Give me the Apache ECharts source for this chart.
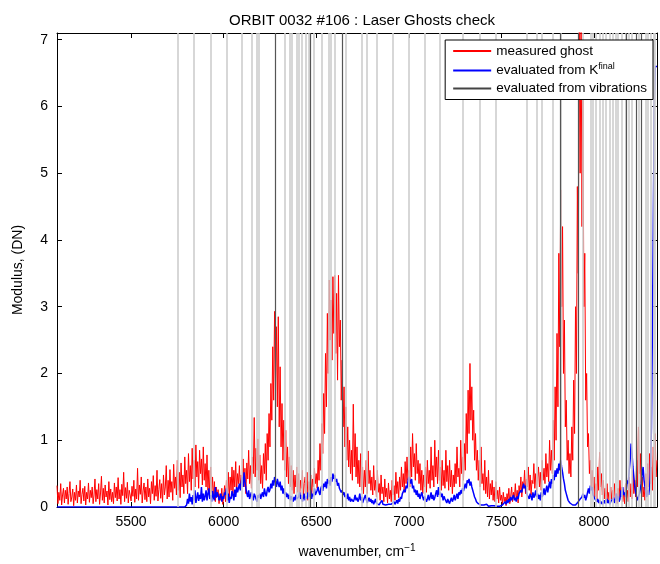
<!DOCTYPE html>
<html>
<head>
<meta charset="utf-8">
<script src="https://cdn.jsdelivr.net/npm/echarts@6/dist/echarts.min.js"></script>
<style>
html,body{margin:0;padding:0;background:#fff;}
#chart{width:660px;height:564px;}
</style>
</head>
<body>
<div id="chart"></div>
<script>
// wavenumber grid: start and step (cm-1)
const xStart = 5100;
const xStep = 5;

// measured ghost (red), one value every 5 cm-1 from 5100 (20 values per 100 cm-1)
const measuredGhost = [
  .32,.05,.22,.10,.35,.03,.18,.28,.06,.25,.12,.30,.04,.20,.38,.08,.15,.27,.02,.22, // 5100
  .10,.33,.06,.24,.15,.40,.05,.19,.28,.09,.31,.03,.22,.12,.36,.07,.25,.14,.30,.05, // 5200
  .18,.42,.08,.26,.12,.35,.04,.21,.46,.10,.28,.06,.33,.15,.24,.03,.38,.11,.27,.08, // 5300
  .22,.05,.36,.14,.30,.09,.44,.12,.26,.04,.34,.17,.52,.08,.29,.13,.37,.06,.25,.18, // 5400
  .09,.31,.16,.40,.07,.27,.12,.58,.10,.33,.19,.45,.06,.24,.36,.11,.30,.08,.42,.15, // 5500
  .28,.05,.38,.20,.47,.10,.32,.16,.55,.09,.26,.41,.13,.35,.07,.48,.18,.30,.62,.12, // 5600
  .40,.15,.56,.22,.38,.10,.64,.28,.45,.18,.70,.25,.52,.14,.66,.30,.48,.20,.75,.35, // 5700
  .55,.20,.80,.38,.62,.25,.88,.42,.70,.30,.93,.45,.68,.28,.85,.50,.72,.33,.90,.40, // 5800
  .65,.30,.78,.25,.55,.18,.60,.22,.45,.12,.38,.08,.30,.15,.26,.05,.20,.10,.28,.04, // 5900
  .15,.32,.08,.40,.18,.52,.12,.45,.25,.60,.20,.55,.30,.68,.22,.50,.35,.62,.28,.48, // 6000
  .38,.72,.30,.58,.20,.66,.42,.85,.35,.62,.28,.75,.50,1.34,.45,.88,.55,1.02,.40,.78, // 6100
  .35,.62,.28,.80,.50,.95,.40,1.10,.70,1.40,.90,1.85,1.30,2.40,1.60,2.93,1.90,2.70,1.50,2.85, // 6200
  1.20,2.10,.90,1.55,.70,1.30,.55,1.15,.45,.90,.35,.75,.30,.62,.25,.55,.20,.48,.30,.60, // 6300
  .22,.50,.15,.40,.28,.55,.12,.35,.45,.20,.52,.10,.38,.25,.48,.15,.42,.30,.58,.35, // 6400
  .50,.28,.70,.40,.95,.55,1.25,.80,1.70,1.10,2.30,1.50,2.90,2.00,3.40,2.50,3.10,2.20,3.45,2.60, // 6500
  3.47,2.30,3.20,1.90,3.47,2.40,2.80,1.60,2.20,1.20,1.80,.90,1.50,.70,1.20,.60,1.00,.50,.85,.40, // 6600
  1.54,.60,1.10,.45,.90,.35,.70,.30,.80,.25,.60,.20,.55,.30,.70,.20,.84,.35,.55,.25, // 6700
  .45,.18,.62,.25,.40,.15,.55,.22,.35,.10,.48,.20,.30,.08,.42,.15,.28,.06,.36,.12, // 6800
  .25,.08,.40,.18,.32,.10,.52,.20,.38,.14,.45,.25,.60,.30,.50,.22,.68,.35,.75,.40, // 6900
  .55,.30,.90,.45,1.10,.60,.80,.40,.95,.50,.70,.35,.65,.25,.55,.20,.48,.30,.60,.22, // 7000
  .70,.35,.55,.28,.90,.40,.62,.30,1.00,.45,.75,.35,.85,.40,.60,.25,.70,.32,.55,.28, // 7100
  .85,.38,.62,.25,.70,.30,.55,.20,.48,.30,.65,.35,.90,.45,.58,.30,1.00,.50,.75,.40, // 7200
  .95,.55,1.40,.80,1.75,1.10,2.15,1.30,1.80,1.00,1.45,.70,1.10,.55,.85,.40,.70,.30,.90,.35, // 7300
  .50,.25,.70,.20,.45,.15,.55,.12,.35,.18,.40,.10,.30,.08,.38,.12,.25,.06,.30,.10, // 7400
  .18,.04,.22,.08,.15,.02,.20,.10,.28,.05,.16,.30,.08,.22,.12,.35,.10,.25,.06,.32, // 7500
  .22,.45,.15,.38,.28,.55,.20,.42,.30,.60,.25,.48,.18,.40,.35,.65,.28,.50,.22,.45, // 7600
  .60,.30,.52,.25,.70,.40,.58,.35,.80,.45,.65,.38,1.00,.55,.85,.50,1.30,.70,1.80,1.00, // 7700
  2.60,1.50,3.80,2.40,4.75,3.00,4.20,2.00,2.80,1.20,1.60,.70,1.00,.50,.80,.45,1.20,.70,1.90,1.10, // 7800
  3.00,2.00,4.80,3.50,7.40,5.00,7.40,4.20,6.30,3.00,3.80,1.60,2.00,.90,1.10,.50,.70,.30,.55,.25, // 7900
  .45,.15,.35,.10,.60,.25,.82,.30,.50,.18,.40,.12,.28,.06,.35,.10,.22,.05,.30,.12, // 8000
  .25,.08,.35,.12,.20,.05,.28,.10,.40,.15,.30,.08,.22,.05,.35,.12,.25,.08,.45,.15, // 8100
  .35,.12,.55,.20,.40,.15,.70,.30,1.20,.50,.80,.25,.45,.15,.30,.10,.50,.20,.65,.30, // 8200
  .80,.35,.60,.25,.90,.40,1.10,.45,.70 // 8300
];

// evaluated from K^final (blue), one value every 5 cm-1 from 5100
const evaluatedK = [
  0,0,0,0,0,0,0,0,0,0,0,0,0,0,0,0,0,0,0,0, // 5100
  0,0,0,0,0,0,0,0,0,0,0,0,0,0,0,0,0,0,0,0, // 5200
  0,0,0,0,0,0,0,0,0,0,0,0,0,0,0,0,0,0,0,0, // 5300
  0,0,0,0,0,0,0,0,0,0,0,0,0,0,0,0,0,0,0,0, // 5400
  0,0,0,0,0,0,0,0,0,0,0,0,0,0,0,0,0,0,0,0, // 5500
  0,0,0,0,0,0,0,0,0,0,0,0,0,0,0,0,0,0,0,0, // 5600
  0,0,0,0,0,0,0,0,0,0,0,0,0,0,0,0,0,0,0,0, // 5700
  .03,.12,.05,.20,.08,.15,.04,.18,.10,.25,.06,.14,.22,.09,.18,.12,.30,.08,.20,.10, // 5800
  .16,.25,.10,.20,.28,.12,.18,.08,.24,.15,.10,.30,.14,.22,.18,.10,.12,.20,.08,.16, // 5900
  .12,.22,.18,.28,.10,.20,.06,.15,.12,.24,.18,.10,.26,.15,.30,.22,.28,.35,.25,.38, // 6000
  .45,.30,.52,.38,.28,.20,.15,.25,.12,.18,.22,.15,.10,.20,.16,.12,.08,.18,.14,.20, // 6100
  .12,.18,.22,.15,.28,.20,.16,.25,.30,.22,.26,.35,.28,.40,.32,.45,.38,.30,.42,.35, // 6200
  .30,.38,.25,.32,.20,.28,.18,.22,.15,.20,.12,.18,.10,.16,.12,.08,.15,.10,.18,.12, // 6300
  .10,.15,.22,.12,.18,.08,.14,.20,.10,.16,.12,.22,.15,.18,.25,.12,.20,.16,.28,.18, // 6400
  .20,.25,.30,.22,.18,.28,.32,.24,.35,.30,.38,.28,.42,.35,.40,.32,.45,.38,.50,.42, // 6500
  .48,.38,.42,.32,.36,.28,.30,.22,.25,.18,.22,.15,.18,.12,.20,.10,.15,.08,.12,.10, // 6600
  .08,.12,.18,.10,.14,.08,.12,.20,.10,.15,.06,.10,.08,.18,.12,.06,.10,.14,.08,.12, // 6700
  .06,.10,.04,.08,.12,.06,.04,.08,.03,.06,.05,.10,.04,.02,.06,.03,.05,.02,.04,.06, // 6800
  .02,.04,.03,.06,.08,.04,.06,.10,.05,.12,.08,.15,.12,.20,.18,.26,.22,.32,.28,.38, // 6900
  .45,.40,.35,.42,.28,.32,.22,.26,.18,.25,.15,.20,.12,.18,.22,.15,.10,.16,.12,.08, // 7000
  .12,.18,.10,.15,.22,.12,.18,.10,.14,.20,.25,.15,.30,.18,.22,.15,.20,.10,.16,.12, // 7100
  .10,.06,.12,.08,.05,.10,.14,.08,.12,.18,.10,.15,.20,.12,.22,.18,.25,.20,.28,.24, // 7200
  .30,.35,.28,.40,.36,.42,.32,.38,.30,.25,.20,.15,.12,.08,.10,.05,.04,.06,.03,.02, // 7300
  .02,.03,.01,.02,.04,.02,.01,.03,.01,.02,.01,.01,.02,.01,.03,.01,.02,.01,.01,.02, // 7400
  .01,.03,.05,.02,.08,.04,.10,.06,.12,.08,.15,.10,.12,.18,.10,.14,.08,.16,.12,.20, // 7500
  .18,.25,.22,.30,.35,.28,.32,.22,.18,.15,.12,.20,.16,.10,.22,.14,.18,.25,.15,.20, // 7600
  .12,.18,.10,.22,.15,.20,.28,.18,.25,.32,.22,.30,.38,.28,.42,.35,.48,.40,.55,.45, // 7700
  .58,.50,.65,.55,.70,.60,.52,.42,.35,.25,.20,.15,.10,.08,.06,.04,.05,.03,.04,.02, // 7800
  .03,.05,.04,.08,.06,.12,.10,.15,.20,.14,.18,.10,.15,.22,.28,.20,.32,.25,.30,.18, // 7900
  .15,.12,.10,.08,.12,.06,.10,.05,.08,.04,.06,.10,.05,.08,.12,.06,.10,.04,.08,.06, // 8000
  .10,.14,.06,.12,.20,.10,.16,.08,.12,.25,.15,.30,.18,.22,.15,.28,.40,.35,.55,.70, // 8100
  .95,.80,.60,.45,.30,.22,.15,.10,.12,.20,.28,.35,.50,.60,.40,.30,.22,.15,.25,.18, // 8200
  .30,.55,1.20,2.60,4.20,6.00,6.60,6.60,6.60 // 8300
];

// light grey vertical lines (cm-1)
const greyLines = [5752,5841,5931,6017,6098,6154,6179,6188,6331,6356,6370,6396,6403,6423,6444,6462,6488,6529,6570,6579,6601,6657,6743,6770,6824,6915,7001,7084,7166,7293,7381,7469,7639,7693,7720,7777,7819,7938,7981,7995,8010,8030,8045,8062,8085,8100,8116,8130,8152,8170,8190,8206,8240,8278,8290,8305,8320,8330];

// evaluated from vibrations (dark vertical lines, cm-1)
const vibrationLines = [6281,6468,6639,7820,7917,8176,8228,8257];

// tick labels
const xTicks = [5500,6000,6500,7000,7500,8000];
const yTicks = [0,1,2,3,4,5,6,7];

const FONT = 'Liberation Sans, Arial, Helvetica, sans-serif';
const toXY = arr => arr.map((v, i) => [xStart + i * xStep, v]);

const chart = echarts.init(document.getElementById('chart'), null, {renderer: 'canvas'});
const xMin = 5100, xMax = 8340, yMin = 0, yMax = 7.1;

chart.setOption({
  animation: false,
  backgroundColor: '#fff',
  title: {
    text: 'ORBIT 0032 #106 : Laser Ghosts check',
    left: 357, top: 8, textAlign: 'center',
    textStyle: {fontFamily: FONT, fontSize: 15, fontWeight: 'normal', color: '#000'}
  },
  grid: {left: 57, right: 3, top: 33, bottom: 56, containLabel: false},
  legend: {
    orient: 'vertical', right: 7, top: 40, z: 100, zlevel: 1,
    data: ['measured ghost', 'evaluated from K', 'evaluated from vibrations'],
    backgroundColor: '#fff', borderColor: '#000', borderWidth: 1,
    padding: [4, 6, 4, 8], itemGap: 4, itemWidth: 38, itemHeight: 2, icon: 'rect',
    textStyle: {fontFamily: FONT, fontSize: 13.5, color: '#000',
      rich: {
        n: {fontFamily: FONT, fontSize: 13.5, color: '#000', lineHeight: 17},
        s: {fontFamily: FONT, fontSize: 9, color: '#000', lineHeight: 9, verticalAlign: 'top'}
      }},
    formatter: name => name === 'evaluated from K' ? '{n|evaluated from K}{s|final}' : '{n|' + name + '}'
  },
  xAxis: [{
    type: 'value', min: xMin, max: xMax, position: 'bottom',
    name: '{n|wavenumber, cm}{s|−1}', nameLocation: 'middle', nameGap: 36,
    nameTextStyle: {fontFamily: FONT, fontSize: 14, color: '#000',
      rich: {
        n: {fontFamily: FONT, fontSize: 14, color: '#000', lineHeight: 18},
        s: {fontFamily: FONT, fontSize: 10, color: '#000', verticalAlign: 'top', lineHeight: 10}
      }},
    axisLine: {show: true, onZero: false, lineStyle: {color: '#000', width: 1}},
    axisTick: {show: true, inside: true, length: 5, customValues: xTicks, lineStyle: {color: '#000'}},
    axisLabel: {show: true, customValues: xTicks, margin: 8, fontFamily: FONT, fontSize: 14, color: '#000',
      formatter: v => String(v)},
    splitLine: {show: false}
  }, {
    type: 'value', min: xMin, max: xMax, position: 'top',
    axisLine: {show: true, onZero: false, lineStyle: {color: '#000', width: 1}},
    axisTick: {show: true, inside: true, length: 5, customValues: xTicks, lineStyle: {color: '#000'}},
    axisLabel: {show: false}, splitLine: {show: false}
  }],
  yAxis: [{
    type: 'value', min: yMin, max: yMax, interval: 1, position: 'left',
    name: 'Modulus, (DN)', nameLocation: 'middle', nameGap: 32,
    nameTextStyle: {fontFamily: FONT, fontSize: 14, color: '#000'},
    axisLine: {show: true, onZero: false, lineStyle: {color: '#000', width: 1}},
    axisTick: {show: true, inside: true, length: 5, customValues: yTicks, lineStyle: {color: '#000'}},
    axisLabel: {show: true, customValues: yTicks, margin: 9, fontFamily: FONT, fontSize: 14, color: '#000',
      formatter: v => String(v)},
    splitLine: {show: false}
  }, {
    type: 'value', min: yMin, max: yMax, interval: 1, position: 'right',
    axisLine: {show: true, onZero: false, lineStyle: {color: '#000', width: 1}},
    axisTick: {show: true, inside: true, length: 5, customValues: yTicks, lineStyle: {color: '#000'}},
    axisLabel: {show: false}, splitLine: {show: false}
  }],
  series: [
    {
      name: 'grey', type: 'line', data: [], silent: true, z: 1,
      markLine: {
        silent: true, symbol: ['none', 'none'], label: {show: false}, animation: false,
        lineStyle: {color: '#cdcdcd', width: 1.6, type: 'solid'},
        emphasis: {disabled: true},
        data: greyLines.map(v => ({xAxis: v}))
      }
    },
    {
      name: 'evaluated from vibrations', type: 'line', data: [], z: 2,
      color: '#444', lineStyle: {color: '#444', width: 1},
      markLine: {
        silent: true, symbol: ['none', 'none'], label: {show: false}, animation: false,
        lineStyle: {color: '#555', width: 1.2, type: 'solid'},
        emphasis: {disabled: true},
        data: vibrationLines.map(v => ({xAxis: v}))
      }
    },
    {
      name: 'measured ghost', type: 'line', data: toXY(measuredGhost), z: 3,
      symbol: 'none', showSymbol: false, clip: true, color: '#ff0000',
      lineStyle: {color: '#ff0000', width: 1}
    },
    {
      name: 'evaluated from K', type: 'line', data: toXY(evaluatedK), z: 4,
      symbol: 'none', showSymbol: false, clip: true, color: '#0000ff',
      lineStyle: {color: '#0000ff', width: 1.5}
    }
  ]
});
</script>
</body>
</html>
